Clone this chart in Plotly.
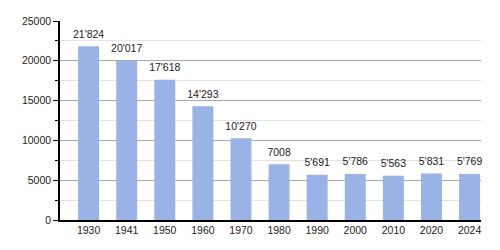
import plotly.graph_objects as go

years = ["1930", "1941", "1950", "1960", "1970", "1980", "1990", "2000", "2010", "2020", "2024"]
population = [21824, 20017, 17618, 14293, 10270, 7008, 5691, 5786, 5563, 5831, 5769]
labels = ["21'824", "20'017", "17'618", "14'293", "10'270", "7008", "5'691", "5'786", "5'563", "5'831", "5'769"]

fnt = "Liberation Sans, Arial"
fig = go.Figure()
fig.add_trace(go.Bar(
    x=years, y=population,
    marker=dict(color="#99b3e6", line=dict(width=0)),
    hoverinfo="skip",
))
fig.add_trace(go.Scatter(
    x=years, y=population, text=labels, mode="markers+text", textposition="top center",
    marker=dict(size=8, opacity=0),
    textfont=dict(family=fnt, size=10.5, color="#222"), cliponaxis=False, hoverinfo="skip",
))
fig.update_layout(
    width=500, height=250,
    margin=dict(l=60, r=19, t=21, b=30),
    paper_bgcolor="white", plot_bgcolor="white",
    bargap=0.45,
    showlegend=False,
    font=dict(family=fnt, size=10.5, color="#222"),
)
fig.update_xaxes(type="category", range=[-0.75, 10.3], showline=True, linecolor="black", linewidth=1.5,
                 ticks="", showgrid=False)
fig.update_yaxes(range=[0, 25000], dtick=5000, tickformat="d", showline=True, linecolor="black", linewidth=1.5,
                 ticks="outside", ticklen=5, tickcolor="black", gridcolor="#aaaaaa", gridwidth=1,
                 zeroline=False,
                 minor=dict(dtick=2500, showgrid=True, gridcolor="#e4e4e4", ticks="outside",
                            ticklen=3, tickcolor="black"))
fig.write_html("out.html")
